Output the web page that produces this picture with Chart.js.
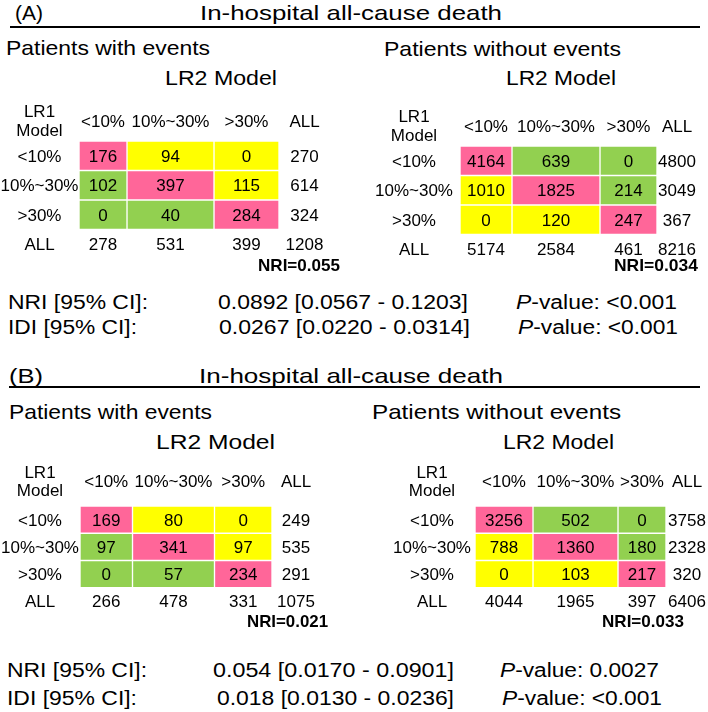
<!DOCTYPE html>
<html>
<head>
<meta charset="utf-8">
<script src="https://cdn.jsdelivr.net/npm/chart.js@4.4.1/dist/chart.umd.min.js"></script>
<style>
  html, body { margin: 0; padding: 0; background: #fff; }
  #page { position: relative; width: 708px; height: 712px; overflow: hidden;
          font-family: 'Liberation Sans', Arial, sans-serif; color: #000; }
  .t { position: absolute; white-space: nowrap; line-height: 1; transform-origin: 0 50%; }
  .rule { position: absolute; height: 2px; background: #000; }
  .mx { position: absolute; }
</style>
</head>
<body>
<div id="page"></div>
<script>
// ---- values ----
const rowLabels = ['<10%', '10%~30%', '>30%'];
const colLabels = ['<10%', '10%~30%', '>30%'];

const aWith = [[176, 94, 0], [102, 397, 115], [0, 40, 284]];
const aWithRowAll = [270, 614, 324];
const aWithColAll = [278, 531, 399];
const aWithTotal = 1208;

const aWithout = [[4164, 639, 0], [1010, 1825, 214], [0, 120, 247]];
const aWithoutRowAll = [4800, 3049, 367];
const aWithoutColAll = [5174, 2584, 461];
const aWithoutTotal = 8216;

const bWith = [[169, 80, 0], [97, 341, 97], [0, 57, 234]];
const bWithRowAll = [249, 535, 291];
const bWithColAll = [266, 478, 331];
const bWithTotal = 1075;

const bWithout = [[3256, 502, 0], [788, 1360, 180], [0, 103, 217]];
const bWithoutRowAll = [3758, 2328, 320];
const bWithoutColAll = [4044, 1965, 397];
const bWithoutTotal = 6406;

const nriLabels = ['NRI=0.055', 'NRI=0.034', 'NRI=0.021', 'NRI=0.033'];
const statNames = ['NRI [95% CI]:', 'IDI [95% CI]:'];
const aStatValues = ['0.0892 [0.0567 - 0.1203]', '0.0267 [0.0220 - 0.0314]'];
const aStatP = ['&lt;0.001', '&lt;0.001'];
const bStatValues = ['0.054 [0.0170 - 0.0901]', '0.018 [0.0130 - 0.0236]'];
const bStatP = ['0.0027', '&lt;0.001'];

const TITLE = 'In-hospital all-cause death';

// ---- styles ----
const PINK = '#ff6699';
const YELLOW = '#ffff00';
const GREEN = '#92d050';
const FONT = "'Liberation Sans', Arial, sans-serif";
const CELL_FONT = 17;

const page = document.getElementById('page');

// diagonal = same class, otherwise colour depends on direction and event group
function cellColor(kind, r, c) {
  if (r === c) return PINK;
  const up = c > r;
  if (kind === 'with') return up ? YELLOW : GREEN;
  return up ? GREEN : YELLOW;
}

// text plugin: row/col labels, counts and totals placed from the bar elements
const tableText = {
  id: 'tableText',
  afterDatasetsDraw(chart, args, opts) {
    const ctx = chart.ctx;
    const drop = CELL_FONT * 0.358;
    ctx.save();
    ctx.font = CELL_FONT + 'px ' + FONT;
    ctx.fillStyle = '#000';
    ctx.textAlign = 'center';
    ctx.textBaseline = 'alphabetic';
    const top = chart.chartArea.top;
    for (let c = 0; c < 5; c++) {
      const meta = chart.getDatasetMeta(c);
      const cx0 = (meta.data[0].x + meta.data[0].base) / 2;
      // header
      if (c === 0) {
        ctx.fillText('LR1', cx0, top + opts.hdr.lr1 + drop);
        ctx.fillText('Model', cx0, top + opts.hdr.model + drop);
      } else {
        ctx.fillText(c === 4 ? 'ALL' : colLabels[c - 1], cx0, top + opts.hdr.label + drop);
      }
      for (let r = 0; r < 4; r++) {
        const el = meta.data[r];
        const cx = (el.x + el.base) / 2;
        let txt;
        if (c === 0) txt = r < 3 ? rowLabels[r] : 'ALL';
        else if (c === 4) txt = r < 3 ? opts.rowAll[r] : opts.total;
        else txt = r < 3 ? opts.counts[r][c - 1] : opts.colAll[c - 1];
        ctx.fillText(String(txt), cx, el.y + drop);
      }
    }
    ctx.restore();
  }
};

function makeMatrix(box, kind, counts, rowAll, colAll, total) {
  const W = box.cols.reduce((a, b) => a + b, 0);
  const H = Math.round(box.header + 4 * box.rowH);
  const div = document.createElement('div');
  div.className = 'mx';
  div.style.left = box.left + 'px';
  div.style.top = box.top + 'px';
  div.style.width = W + 'px';
  div.style.height = H + 'px';
  const canvas = document.createElement('canvas');
  canvas.width = W;
  canvas.height = H;
  div.appendChild(canvas);
  page.appendChild(div);

  // column 0 = row labels, 1..3 = cells, 4 = ALL; row 3 = ALL
  const datasets = box.cols.map((w, c) => ({
    data: [w, w, w, w],
    backgroundColor: [0, 1, 2, 3].map(r =>
      (c >= 1 && c <= 3 && r < 3) ? cellColor(kind, r, c - 1) : 'rgba(0,0,0,0)'),
    borderColor: '#ffffff',
    borderWidth: 1,
    borderSkipped: false,
    categoryPercentage: 1,
    barPercentage: 1
  }));

  return new Chart(canvas.getContext('2d'), {
    type: 'bar',
    data: { labels: [...rowLabels, 'ALL'], datasets },
    options: {
      indexAxis: 'y',
      responsive: false,
      animation: false,
      events: [],
      layout: { padding: { top: box.header, left: 0, right: 0, bottom: 0 } },
      scales: {
        x: { type: 'linear', stacked: true, min: 0, max: W, display: false },
        y: { type: 'category', stacked: true, display: false }
      },
      plugins: {
        legend: { display: false },
        tooltip: { enabled: false },
        tableText: { hdr: box.hdr, counts, rowAll, colAll, total }
      }
    },
    plugins: [tableText]
  });
}

const HDR_A = { label: -20.5, lr1: -30.5, model: -11.5 };
const HDR_B = { label: -25.5, lr1: -34.5, model: -16.5 };

makeMatrix({ left: 0, top: 95, cols: [79, 48, 87, 65, 51], header: 46, rowH: 29.5, hdr: HDR_A },
  'with', aWith, aWithRowAll, aWithColAll, aWithTotal);
makeMatrix({ left: 368, top: 100, cols: [92, 52, 88, 57, 40], header: 46, rowH: 29.5, hdr: HDR_A },
  'without', aWithout, aWithoutRowAll, aWithoutColAll, aWithoutTotal);
makeMatrix({ left: 0, top: 459.5, cols: [80, 52.5, 82, 57.5, 48], header: 46, rowH: 27.3, hdr: HDR_B },
  'with', bWith, bWithRowAll, bWithColAll, bWithTotal);
makeMatrix({ left: 389, top: 459.5, cols: [86, 58, 85, 48, 42], header: 46, rowH: 27.3, hdr: HDR_B },
  'without', bWithout, bWithoutRowAll, bWithoutColAll, bWithoutTotal);

// ---- html text, stretched to the measured extents ----
function pText(html, x0, x1, cy, fs, bold) {
  const s = document.createElement('span');
  s.className = 't';
  s.innerHTML = html;
  s.style.fontSize = fs + 'px';
  if (bold) s.style.fontWeight = 'bold';
  s.style.left = x0 + 'px';
  s.style.top = (cy - 0.49 * fs) + 'px';
  page.appendChild(s);
  const w = s.getBoundingClientRect().width;
  s.style.transform = 'scaleX(' + ((x1 - x0) / w) + ')';
}

function rule(x0, x1, y) {
  const d = document.createElement('div');
  d.className = 'rule';
  d.style.left = x0 + 'px';
  d.style.width = (x1 - x0) + 'px';
  d.style.top = (y - 1) + 'px';
  page.appendChild(d);
}

const pv = p => '<i>P</i>-value: ' + p;

// panel A
pText('(A)', 15, 43, 12.5, 21);
pText(TITLE, 200, 502, 12.5, 21);
rule(10, 700, 27);
pText('Patients with events', 6, 210, 47.5, 21);
pText('Patients without events', 384, 621, 48, 21);
pText('LR2 Model', 165, 277, 77, 21);
pText('LR2 Model', 506, 616, 77, 21);
pText(nriLabels[0], 258, 340, 265, 17, true);
pText(nriLabels[1], 614, 698, 265, 17, true);
pText(statNames[0], 8, 148, 301.5, 20);
pText(aStatValues[0], 218, 468, 301.5, 20);
pText(pv(aStatP[0]), 516, 677, 301.5, 20);
pText(statNames[1], 8, 137, 326.5, 20);
pText(aStatValues[1], 219, 470, 326.5, 20);
pText(pv(aStatP[1]), 518, 678, 326.5, 20);

// panel B
pText('(B)', 9, 43, 375.5, 21);
pText(TITLE, 199, 503, 375.5, 21);
rule(9, 700, 387);
pText('Patients with events', 9, 212, 411.5, 21);
pText('Patients without events', 372, 621, 411.5, 21);
pText('LR2 Model', 156, 275, 441.5, 21);
pText('LR2 Model', 503, 614, 441.5, 21);
pText(nriLabels[2], 247, 328, 621, 17, true);
pText(nriLabels[3], 602, 684, 621, 17, true);
pText(statNames[0], 7, 147, 670, 20);
pText(bStatValues[0], 213, 454, 670, 20);
pText(pv(bStatP[0]), 500, 659, 670, 20);
pText(statNames[1], 7, 137, 697.5, 20);
pText(bStatValues[1], 217, 454, 697.5, 20);
pText(pv(bStatP[1]), 502, 662, 697.5, 20);
</script>
</body>
</html>
